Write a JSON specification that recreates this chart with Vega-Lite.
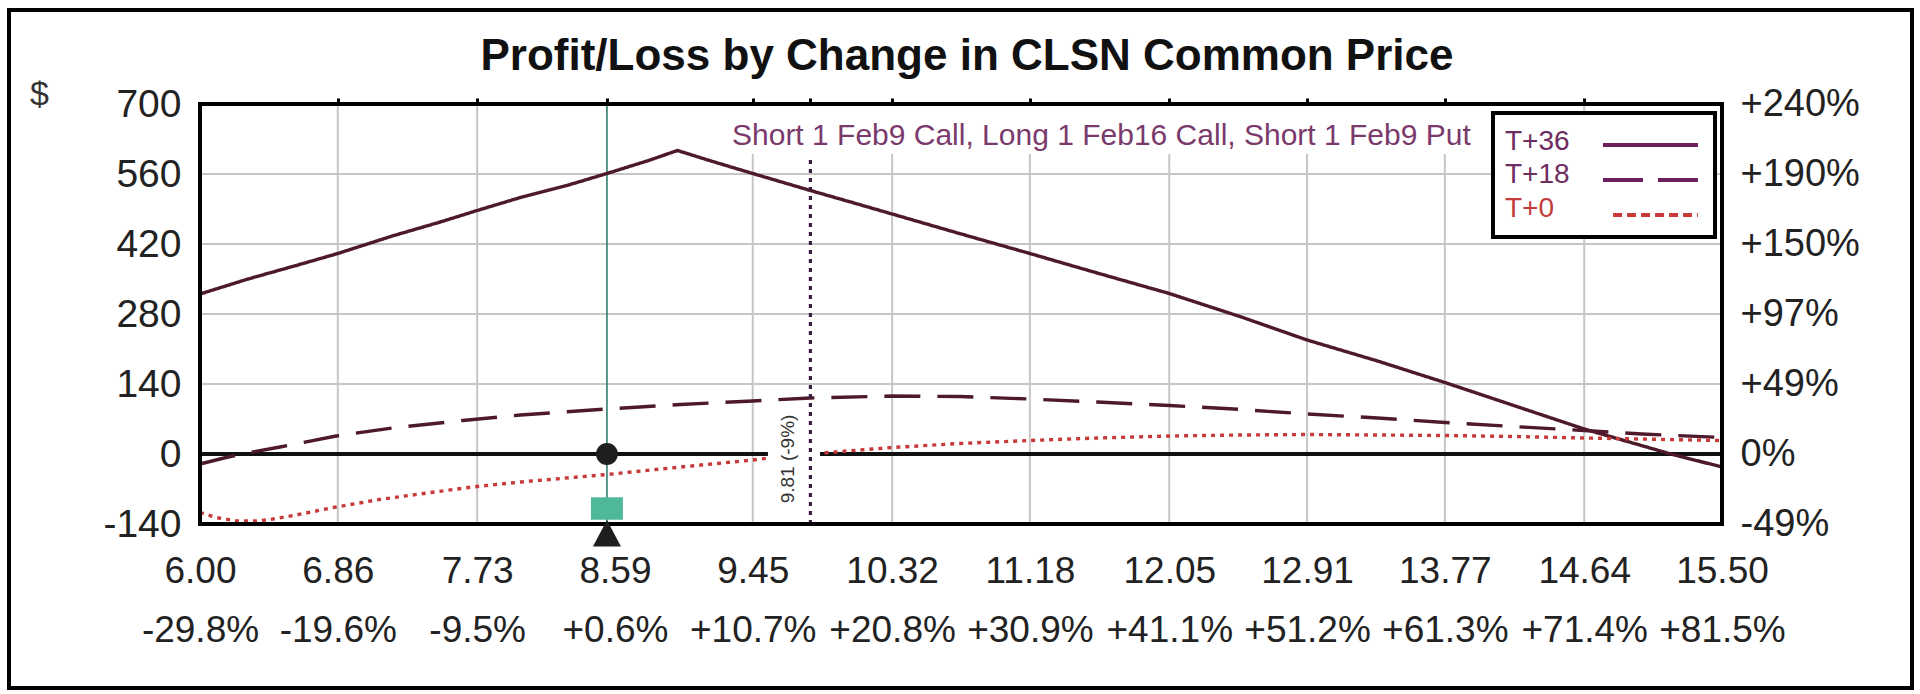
{
  "$schema": "https://vega.github.io/schema/vega-lite/v6.json",
  "autosize": {"type": "none"},
  "width": 1903,
  "height": 678,
  "padding": {"left": 9, "top": 10, "right": 8, "bottom": 6},
  "background": "white",
  "config": {
    "font": "Liberation Sans",
    "view": {"stroke": "#000000", "strokeWidth": 4, "fill": "white"}
  },
  "datasets": {
    "pl": [
      {"price": 6.00, "pl": 320, "series": "T+36"},
      {"price": 6.30, "pl": 350, "series": "T+36"},
      {"price": 6.60, "pl": 377, "series": "T+36"},
      {"price": 6.86, "pl": 401, "series": "T+36"},
      {"price": 7.20, "pl": 436, "series": "T+36"},
      {"price": 7.50, "pl": 464, "series": "T+36"},
      {"price": 7.73, "pl": 487, "series": "T+36"},
      {"price": 8.00, "pl": 513, "series": "T+36"},
      {"price": 8.30, "pl": 538, "series": "T+36"},
      {"price": 8.54, "pl": 561, "series": "T+36"},
      {"price": 8.80, "pl": 587, "series": "T+36"},
      {"price": 8.98, "pl": 607, "series": "T+36"},
      {"price": 9.20, "pl": 585, "series": "T+36"},
      {"price": 9.45, "pl": 561, "series": "T+36"},
      {"price": 9.81, "pl": 527, "series": "T+36"},
      {"price": 10.05, "pl": 505, "series": "T+36"},
      {"price": 10.32, "pl": 480, "series": "T+36"},
      {"price": 10.74, "pl": 441, "series": "T+36"},
      {"price": 11.18, "pl": 401, "series": "T+36"},
      {"price": 11.60, "pl": 362, "series": "T+36"},
      {"price": 12.05, "pl": 321, "series": "T+36"},
      {"price": 12.50, "pl": 274, "series": "T+36"},
      {"price": 12.91, "pl": 228, "series": "T+36"},
      {"price": 13.35, "pl": 186, "series": "T+36"},
      {"price": 13.77, "pl": 143, "series": "T+36"},
      {"price": 14.20, "pl": 97, "series": "T+36"},
      {"price": 14.64, "pl": 50, "series": "T+36"},
      {"price": 15.18, "pl": 0, "series": "T+36"},
      {"price": 15.50, "pl": -26, "series": "T+36"},
      {"price": 6.00, "pl": -20, "series": "T+18"},
      {"price": 6.15, "pl": -8, "series": "T+18"},
      {"price": 6.31, "pl": 3, "series": "T+18"},
      {"price": 6.50, "pl": 14, "series": "T+18"},
      {"price": 6.85, "pl": 36, "series": "T+18"},
      {"price": 7.20, "pl": 52, "series": "T+18"},
      {"price": 7.64, "pl": 67, "series": "T+18"},
      {"price": 8.00, "pl": 78, "series": "T+18"},
      {"price": 8.54, "pl": 90, "series": "T+18"},
      {"price": 9.00, "pl": 99, "series": "T+18"},
      {"price": 9.45, "pl": 106, "series": "T+18"},
      {"price": 9.81, "pl": 112, "series": "T+18"},
      {"price": 10.32, "pl": 116, "series": "T+18"},
      {"price": 10.74, "pl": 115, "series": "T+18"},
      {"price": 11.18, "pl": 110, "series": "T+18"},
      {"price": 11.60, "pl": 104, "series": "T+18"},
      {"price": 12.05, "pl": 97, "series": "T+18"},
      {"price": 12.50, "pl": 89, "series": "T+18"},
      {"price": 12.91, "pl": 80, "series": "T+18"},
      {"price": 13.35, "pl": 72, "series": "T+18"},
      {"price": 13.77, "pl": 63, "series": "T+18"},
      {"price": 14.20, "pl": 55, "series": "T+18"},
      {"price": 14.64, "pl": 47, "series": "T+18"},
      {"price": 15.00, "pl": 40, "series": "T+18"},
      {"price": 15.50, "pl": 33, "series": "T+18"},
      {"price": 6.00, "pl": -117, "series": "T+0"},
      {"price": 6.10, "pl": -127, "series": "T+0"},
      {"price": 6.23, "pl": -134, "series": "T+0"},
      {"price": 6.35, "pl": -134, "series": "T+0"},
      {"price": 6.44, "pl": -131, "series": "T+0"},
      {"price": 6.60, "pl": -122, "series": "T+0"},
      {"price": 6.85, "pl": -106, "series": "T+0"},
      {"price": 7.12, "pl": -91, "series": "T+0"},
      {"price": 7.44, "pl": -77, "series": "T+0"},
      {"price": 7.70, "pl": -66, "series": "T+0"},
      {"price": 8.00, "pl": -56, "series": "T+0"},
      {"price": 8.54, "pl": -41, "series": "T+0"},
      {"price": 9.00, "pl": -26, "series": "T+0"},
      {"price": 9.45, "pl": -12, "series": "T+0"},
      {"price": 9.60, "pl": -6, "series": "T+0"},
      {"price": 9.85, "pl": 1, "series": "T+0"},
      {"price": 10.00, "pl": 5, "series": "T+0"},
      {"price": 10.32, "pl": 13, "series": "T+0"},
      {"price": 10.74, "pl": 21, "series": "T+0"},
      {"price": 11.18, "pl": 27, "series": "T+0"},
      {"price": 11.60, "pl": 32, "series": "T+0"},
      {"price": 12.05, "pl": 36, "series": "T+0"},
      {"price": 12.50, "pl": 38, "series": "T+0"},
      {"price": 12.91, "pl": 39, "series": "T+0"},
      {"price": 13.35, "pl": 38, "series": "T+0"},
      {"price": 13.77, "pl": 37, "series": "T+0"},
      {"price": 14.20, "pl": 35, "series": "T+0"},
      {"price": 14.64, "pl": 32, "series": "T+0"},
      {"price": 15.00, "pl": 30, "series": "T+0"},
      {"price": 15.50, "pl": 27, "series": "T+0"}
    ],
    "xgrid": [
      {"price": 6.86}, {"price": 7.73}, {"price": 9.45}, {"price": 10.32},
      {"price": 11.18}, {"price": 12.05}, {"price": 12.91}, {"price": 13.77}, {"price": 14.64}
    ],
    "ygrid": [{"pl": 140}, {"pl": 280}, {"pl": 420}, {"pl": 560}],
    "baseline": [{"pl": 0}],
    "spot": [{"price": 8.54}],
    "breakeven": [{"price": 9.81, "label": "9.81 (-9%)"}],
    "note": [{"note": "Short 1 Feb9 Call, Long 1 Feb16 Call, Short 1 Feb9 Put"}],
    "heading": [{"title": "Profit/Loss by Change in CLSN Common Price"}]
  },
  "resolve": {"axis": {"x": "independent", "y": "independent"}},
  "layer": [
    {
      "data": {"name": "ygrid"},
      "mark": {"type": "rule", "color": "#c6c6c6", "strokeWidth": 2},
      "encoding": {
        "y": {
          "field": "pl", "type": "quantitative",
          "scale": {"domain": [-468, 888], "nice": false, "zero": false},
          "axis": {
            "orient": "left", "offset": -191,
            "values": [-140, 0, 140, 280, 420, 560, 700],
            "labelExpr": "(datum.value < 0 ? '-' : '') + abs(datum.value)",
            "domain": false, "ticks": false, "tickSize": 0, "grid": false,
            "labelPadding": 19, "labelFontSize": 39, "labelColor": "#222222",
            "labelOverlap": false, "labelBound": false, "labelFlush": false,
            "title": "$", "titleAngle": 0, "titleX": -161, "titleY": 84,
            "titleAlign": "center", "titleBaseline": "middle",
            "titleFontSize": 34, "titleFontWeight": "normal", "titleColor": "#333333"
          }
        },
        "x": {"datum": 6, "type": "quantitative", "scale": {"domain": [4.8078, 16.6859], "nice": false, "zero": false}, "axis": null},
        "x2": {"datum": 15.5}
      }
    },
    {
      "data": {"name": "xgrid"},
      "mark": {"type": "rule", "color": "#c6c6c6", "strokeWidth": 2},
      "encoding": {
        "x": {
          "field": "price", "type": "quantitative",
          "scale": {"domain": [4.8078, 16.6859], "nice": false, "zero": false},
          "axis": {
            "orient": "bottom", "offset": -164,
            "values": [6, 6.86, 7.73, 8.59, 9.45, 10.32, 11.18, 12.05, 12.91, 13.77, 14.64, 15.5],
            "labelExpr": "[format(datum.value, '.2f'), ['-29.8%','-19.6%','-9.5%','+0.6%','+10.7%','+20.8%','+30.9%','+41.1%','+51.2%','+61.3%','+71.4%','+81.5%'][indexof([6, 6.86, 7.73, 8.59, 9.45, 10.32, 11.18, 12.05, 12.91, 13.77, 14.64, 15.5], datum.value)]]",
            "domain": false, "ticks": false, "tickSize": 0, "grid": false,
            "labelPadding": 58, "labelBaseline": "alphabetic", "labelLineHeight": 59,
            "labelAlign": "center", "labelFontSize": 37, "labelColor": "#222222",
            "labelOverlap": false, "labelBound": false, "labelFlush": false,
            "title": null
          }
        },
        "y": {"datum": -140, "type": "quantitative", "scale": {"domain": [-468, 888], "nice": false, "zero": false}, "axis": null},
        "y2": {"datum": 700}
      }
    },
    {
      "data": {"values": [{}]},
      "mark": {"type": "rect", "fill": "white", "strokeWidth": 0},
      "encoding": {
        "x": {"datum": 9.2457, "type": "quantitative", "scale": {"domain": [4.8078, 16.6859], "nice": false, "zero": false}, "axis": null},
        "x2": {"datum": 13.927},
        "y": {"datum": 600, "type": "quantitative", "scale": {"domain": [-468, 888], "nice": false, "zero": false}, "axis": null},
        "y2": {"datum": 698}
      }
    },
    {
      "data": {"name": "baseline"},
      "mark": {"type": "rule", "color": "#111111", "strokeWidth": 4},
      "encoding": {
        "y": {
          "field": "pl", "type": "quantitative",
          "scale": {"domain": [-468, 888], "nice": false, "zero": false},
          "axis": {
            "orient": "right", "offset": -190,
            "values": [-140, 0, 140, 280, 420, 560, 700],
            "labelExpr": "['-49%','0%','+49%','+97%','+150%','+190%','+240%'][indexof([-140, 0, 140, 280, 420, 560, 700], datum.value)]",
            "domain": false, "ticks": false, "tickSize": 0, "grid": false,
            "labelPadding": 18, "labelFontSize": 38, "labelColor": "#222222",
            "labelOverlap": false, "labelBound": false, "labelFlush": false,
            "title": null
          }
        },
        "x": {"datum": 6, "type": "quantitative", "scale": {"domain": [4.8078, 16.6859], "nice": false, "zero": false}, "axis": null},
        "x2": {"datum": 15.5}
      }
    },
    {
      "data": {"name": "spot"},
      "mark": {"type": "rule", "color": "#2f7c6c", "strokeWidth": 1.6},
      "encoding": {
        "x": {"field": "price", "type": "quantitative", "scale": {"domain": [4.8078, 16.6859], "nice": false, "zero": false}, "axis": null},
        "y": {"datum": -140, "type": "quantitative", "scale": {"domain": [-468, 888], "nice": false, "zero": false}, "axis": null},
        "y2": {"datum": 700}
      }
    },
    {
      "data": {"name": "pl"},
      "mark": {"type": "line", "strokeWidth": 3.4},
      "encoding": {
        "x": {"field": "price", "type": "quantitative", "scale": {"domain": [4.8078, 16.6859], "nice": false, "zero": false}, "axis": null},
        "y": {"field": "pl", "type": "quantitative", "scale": {"domain": [-468, 888], "nice": false, "zero": false}, "axis": null},
        "color": {
          "field": "series", "type": "nominal",
          "scale": {"domain": ["T+36", "T+18", "T+0"], "range": ["#4e1a2a", "#4e1a2a", "#c83a3a"]},
          "legend": null
        },
        "strokeDash": {
          "field": "series", "type": "nominal",
          "scale": {"domain": ["T+36", "T+18", "T+0"], "range": [[1, 0], [36, 17], [4, 5]]},
          "legend": null
        }
      }
    },
    {
      "data": {"values": [{}]},
      "mark": {"type": "rect", "fill": "white", "strokeWidth": 0},
      "encoding": {
        "x": {"datum": 9.545, "type": "quantitative", "scale": {"domain": [4.8078, 16.6859], "nice": false, "zero": false}, "axis": null},
        "x2": {"datum": 9.87},
        "y": {"datum": -112, "type": "quantitative", "scale": {"domain": [-468, 888], "nice": false, "zero": false}, "axis": null},
        "y2": {"datum": 88}
      }
    },
    {
      "data": {"name": "breakeven"},
      "mark": {"type": "rule", "color": "#3a1f40", "strokeWidth": 3.2, "strokeDash": [4, 5]},
      "encoding": {
        "x": {"field": "price", "type": "quantitative", "scale": {"domain": [4.8078, 16.6859], "nice": false, "zero": false}, "axis": null},
        "y": {"datum": -140, "type": "quantitative", "scale": {"domain": [-468, 888], "nice": false, "zero": false}, "axis": null},
        "y2": {"datum": 598}
      }
    },
    {
      "data": {"name": "breakeven"},
      "mark": {"type": "text", "angle": 270, "fontSize": 19, "color": "#333333", "align": "center", "baseline": "middle"},
      "encoding": {
        "text": {"field": "label", "type": "nominal"},
        "x": {"datum": 9.67, "type": "quantitative", "scale": {"domain": [4.8078, 16.6859], "nice": false, "zero": false}, "axis": null},
        "y": {"datum": -10, "type": "quantitative", "scale": {"domain": [-468, 888], "nice": false, "zero": false}, "axis": null}
      }
    },
    {
      "data": {"values": [{}]},
      "mark": {"type": "rect", "fill": "white", "fillOpacity": 0, "stroke": "#000000", "strokeWidth": 4},
      "encoding": {
        "x": {
          "datum": 6, "type": "quantitative",
          "scale": {"domain": [4.8078, 16.6859], "nice": false, "zero": false},
          "axis": {
            "orient": "top", "offset": -94,
            "values": [6.86, 7.73, 8.54, 9.45, 9.81, 10.32, 11.18, 12.05, 12.91, 13.77, 14.64],
            "domain": false, "grid": false, "labels": false, "title": null,
            "ticks": true, "tickSize": 6, "tickWidth": 3, "tickColor": "#000000"
          }
        },
        "x2": {"datum": 15.5},
        "y": {"datum": -140, "type": "quantitative", "scale": {"domain": [-468, 888], "nice": false, "zero": false}, "axis": null},
        "y2": {"datum": 700}
      }
    },
    {
      "data": {"name": "spot"},
      "mark": {"type": "point", "shape": "circle", "filled": true, "color": "#1e1e1e", "size": 480, "opacity": 1},
      "encoding": {
        "x": {"field": "price", "type": "quantitative", "scale": {"domain": [4.8078, 16.6859], "nice": false, "zero": false}, "axis": null},
        "y": {"datum": 0, "type": "quantitative", "scale": {"domain": [-468, 888], "nice": false, "zero": false}, "axis": null}
      }
    },
    {
      "data": {"name": "spot"},
      "mark": {"type": "point", "shape": "M-1,-0.7L1,-0.7L1,0.7L-1,0.7Z", "filled": true, "color": "#4fb89a", "size": 1024, "opacity": 1},
      "encoding": {
        "x": {"field": "price", "type": "quantitative", "scale": {"domain": [4.8078, 16.6859], "nice": false, "zero": false}, "axis": null},
        "y": {"datum": -109, "type": "quantitative", "scale": {"domain": [-468, 888], "nice": false, "zero": false}, "axis": null}
      }
    },
    {
      "data": {"name": "spot"},
      "mark": {"type": "point", "shape": "M0,-1L1,0.9L-1,0.9Z", "filled": true, "color": "#1e1e1e", "size": 784, "opacity": 1},
      "encoding": {
        "x": {"field": "price", "type": "quantitative", "scale": {"domain": [4.8078, 16.6859], "nice": false, "zero": false}, "axis": null},
        "y": {"datum": -160, "type": "quantitative", "scale": {"domain": [-468, 888], "nice": false, "zero": false}, "axis": null}
      }
    },
    {
      "data": {"name": "heading"},
      "mark": {"type": "text", "fontSize": 44, "fontWeight": "bold", "color": "#111111", "align": "center", "baseline": "alphabetic"},
      "encoding": {
        "text": {"field": "title", "type": "nominal"},
        "x": {"datum": 10.7874, "type": "quantitative", "scale": {"domain": [4.8078, 16.6859], "nice": false, "zero": false}, "axis": null},
        "y": {"datum": 768, "type": "quantitative", "scale": {"domain": [-468, 888], "nice": false, "zero": false}, "axis": null}
      }
    },
    {
      "data": {"name": "note"},
      "mark": {"type": "text", "fontSize": 30, "color": "#7a3a6c", "align": "left", "baseline": "alphabetic"},
      "encoding": {
        "text": {"field": "note", "type": "nominal"},
        "x": {"datum": 9.3206, "type": "quantitative", "scale": {"domain": [4.8078, 16.6859], "nice": false, "zero": false}, "axis": null},
        "y": {"datum": 618, "type": "quantitative", "scale": {"domain": [-468, 888], "nice": false, "zero": false}, "axis": null}
      }
    },
    {
      "data": {"values": [{}]},
      "mark": {"type": "rect", "fill": "white", "stroke": "#000000", "strokeWidth": 4},
      "encoding": {
        "x": {"datum": 14.0706, "type": "quantitative", "scale": {"domain": [4.8078, 16.6859], "nice": false, "zero": false}, "axis": null},
        "x2": {"datum": 15.4563},
        "y": {"datum": 434, "type": "quantitative", "scale": {"domain": [-468, 888], "nice": false, "zero": false}, "axis": null},
        "y2": {"datum": 682}
      }
    },
    {
      "data": {"values": [{"series": "T+36"}]},
      "mark": {"type": "text", "fontSize": 28, "color": "#6e2c60", "align": "left", "baseline": "alphabetic"},
      "encoding": {
        "text": {"field": "series", "type": "nominal"},
        "x": {"datum": 14.1455, "type": "quantitative", "scale": {"domain": [4.8078, 16.6859], "nice": false, "zero": false}, "axis": null},
        "y": {"datum": 608, "type": "quantitative", "scale": {"domain": [-468, 888], "nice": false, "zero": false}, "axis": null}
      }
    },
    {
      "data": {"values": [{"series": "T+18"}]},
      "mark": {"type": "text", "fontSize": 28, "color": "#6e2c60", "align": "left", "baseline": "alphabetic"},
      "encoding": {
        "text": {"field": "series", "type": "nominal"},
        "x": {"datum": 14.1455, "type": "quantitative", "scale": {"domain": [4.8078, 16.6859], "nice": false, "zero": false}, "axis": null},
        "y": {"datum": 542, "type": "quantitative", "scale": {"domain": [-468, 888], "nice": false, "zero": false}, "axis": null}
      }
    },
    {
      "data": {"values": [{"series": "T+0"}]},
      "mark": {"type": "text", "fontSize": 28, "color": "#c23c3c", "align": "left", "baseline": "alphabetic"},
      "encoding": {
        "text": {"field": "series", "type": "nominal"},
        "x": {"datum": 14.1455, "type": "quantitative", "scale": {"domain": [4.8078, 16.6859], "nice": false, "zero": false}, "axis": null},
        "y": {"datum": 474, "type": "quantitative", "scale": {"domain": [-468, 888], "nice": false, "zero": false}, "axis": null}
      }
    },
    {
      "data": {"values": [{}]},
      "mark": {"type": "rule", "color": "#6b1f5c", "strokeWidth": 4},
      "encoding": {
        "x": {"datum": 14.757, "type": "quantitative", "scale": {"domain": [4.8078, 16.6859], "nice": false, "zero": false}, "axis": null},
        "x2": {"datum": 15.35},
        "y": {"datum": 618, "type": "quantitative", "scale": {"domain": [-468, 888], "nice": false, "zero": false}, "axis": null}
      }
    },
    {
      "data": {"values": [{}]},
      "mark": {"type": "rule", "color": "#6b1f5c", "strokeWidth": 4, "strokeDash": [40, 15]},
      "encoding": {
        "x": {"datum": 14.757, "type": "quantitative", "scale": {"domain": [4.8078, 16.6859], "nice": false, "zero": false}, "axis": null},
        "x2": {"datum": 15.35},
        "y": {"datum": 548, "type": "quantitative", "scale": {"domain": [-468, 888], "nice": false, "zero": false}, "axis": null}
      }
    },
    {
      "data": {"values": [{}]},
      "mark": {"type": "rule", "color": "#c83a3a", "strokeWidth": 4, "strokeDash": [9, 5]},
      "encoding": {
        "x": {"datum": 14.82, "type": "quantitative", "scale": {"domain": [4.8078, 16.6859], "nice": false, "zero": false}, "axis": null},
        "x2": {"datum": 15.35},
        "y": {"datum": 478, "type": "quantitative", "scale": {"domain": [-468, 888], "nice": false, "zero": false}, "axis": null}
      }
    }
  ]
}
